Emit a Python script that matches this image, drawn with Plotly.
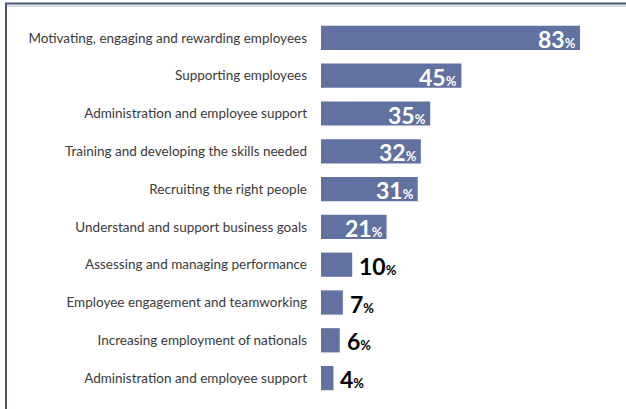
import plotly.graph_objects as go

# Survey results: share of respondents naming each HR priority
categories = [
    "Motivating, engaging and rewarding employees",
    "Supporting employees",
    "Administration and employee support",
    "Training and developing the skills needed",
    "Recruiting the right people",
    "Understand and support business goals",
    "Assessing and managing performance",
    "Employee engagement and teamworking",
    "Increasing employment of nationals",
    "Administration and employee support",
]
values = [83, 45, 35, 32, 31, 21, 10, 7, 6, 4]

# labels sit inside the bar when the bar is long enough
inside_threshold = 20

BAR_COLOR = "#6171a0"
FRAME_COLOR = "#4a5272"

W, H = 626, 409
M_L, M_R, M_T, M_B = 321, 10, 19, 12
PX_PER_UNIT = 3.12
plot_w = W - M_L - M_R
plot_h = H - M_T - M_B

positions = list(range(len(categories)))

fig = go.Figure(
    go.Bar(
        x=values,
        y=positions,
        orientation="h",
        width=0.64,
        marker=dict(color=BAR_COLOR, line=dict(width=0)),
        hoverinfo="skip",
    )
)

for pos, v in zip(positions, values):
    txt = f"<b>{v}<span style='font-size:13px'>%</span></b>"
    if v >= inside_threshold:
        fig.add_annotation(
            x=v, y=pos, text=txt, showarrow=False,
            xanchor="right", yanchor="middle", xshift=-2, yshift=-1,
            font=dict(family="Lato", size=23, color="white"),
        )
    else:
        fig.add_annotation(
            x=v, y=pos, text=txt, showarrow=False,
            xanchor="left", yanchor="middle", xshift=5, yshift=-1,
            font=dict(family="Lato", size=23, color="black"),
        )


def px_to_paper_x(px):
    return (px - M_L) / plot_w


def px_to_paper_y(py):
    return 1 - (py - M_T) / plot_h


# outer frame: double rule along the top, single rule down the left
fig.add_shape(type="line", xref="paper", yref="paper",
              x0=px_to_paper_x(5), x1=px_to_paper_x(W + 2),
              y0=px_to_paper_y(3.5), y1=px_to_paper_y(3.5),
              line=dict(color=FRAME_COLOR, width=2))
fig.add_shape(type="line", xref="paper", yref="paper",
              x0=px_to_paper_x(7), x1=px_to_paper_x(W + 2),
              y0=px_to_paper_y(6), y1=px_to_paper_y(6),
              line=dict(color="#b8bccb", width=1))
fig.add_shape(type="line", xref="paper", yref="paper",
              x0=px_to_paper_x(6), x1=px_to_paper_x(6),
              y0=px_to_paper_y(3), y1=px_to_paper_y(H + 2),
              line=dict(color=FRAME_COLOR, width=2))

fig.update_layout(
    width=W,
    height=H,
    margin=dict(l=M_L, r=M_R, t=M_T, b=M_B, autoexpand=False),
    paper_bgcolor="white",
    plot_bgcolor="white",
    showlegend=False,
    bargap=0.36,
    xaxis=dict(
        range=[0, plot_w / PX_PER_UNIT],
        visible=False,
        fixedrange=True,
    ),
    yaxis=dict(
        range=[len(categories) - 0.5, -0.5],
        tickvals=positions,
        ticktext=categories,
        ticks="",
        showgrid=False,
        zeroline=False,
        showline=False,
        ticklabelstandoff=13,
        tickfont=dict(family="Lato", size=13.5, color="#3a3a3a"),
        automargin=False,
        fixedrange=True,
    ),
)

fig.write_html("out.html")
